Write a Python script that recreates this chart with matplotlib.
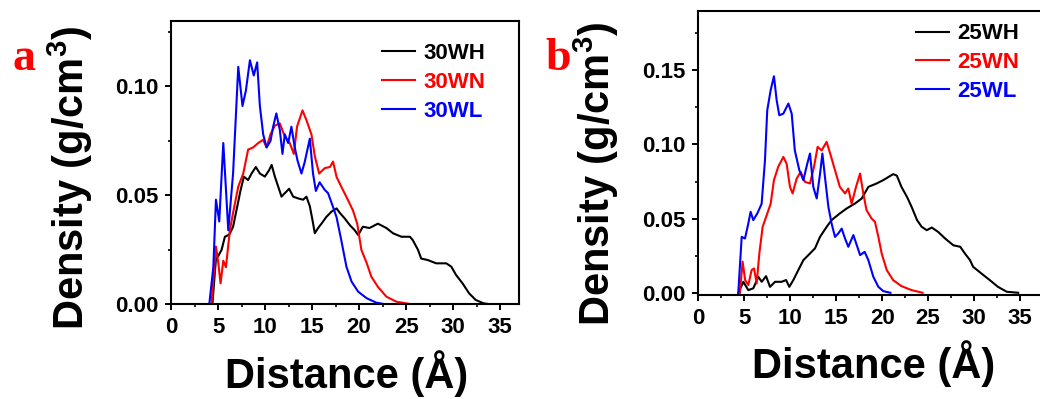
import matplotlib
matplotlib.use("Agg")
import matplotlib.pyplot as plt
from matplotlib.ticker import MultipleLocator, FormatStrFormatter

plt.rcParams["font.family"] = ["Liberation Sans", "DejaVu Sans"]
plt.rcParams["font.weight"] = "bold"
plt.rcParams["mathtext.fontset"] = "custom"
plt.rcParams["mathtext.bf"] = "Liberation Sans:bold"
plt.rcParams["mathtext.rm"] = "Liberation Sans:bold"

# ---- panel a: 30 W series (distance in Angstrom, density in g/cm^3) ----
d_30wh = [4.4, 4.78, 5.0, 5.38, 5.73, 6.2, 6.6, 7.04, 7.4, 7.75, 8.2, 8.56, 9.02, 9.45,
          9.98, 10.44, 10.7, 11.04, 11.4, 11.75, 12.1, 12.56, 12.99, 13.5, 14.05, 14.4,
          14.76, 15.04, 15.29, 15.64, 16.0, 16.5, 17.06, 17.6, 17.94, 18.47, 19.0, 19.53,
          19.9, 20.4, 21.1, 22.0, 22.9, 23.6, 24.5, 25.4, 25.7, 26.26, 26.6, 27.3, 28.2,
          29.26, 29.8, 30.3, 31.0, 31.7, 32.4, 33.2, 33.9]
rho_30wh = [0.0, 0.021, 0.022, 0.025, 0.031, 0.032, 0.0356, 0.0448, 0.0524, 0.0586, 0.057,
            0.060, 0.063, 0.060, 0.0586, 0.0616, 0.064, 0.0586, 0.054, 0.0494, 0.051, 0.053,
            0.0494, 0.0486, 0.048, 0.0494, 0.045, 0.0387, 0.0326, 0.035, 0.037, 0.040,
            0.0425, 0.044, 0.042, 0.0394, 0.0364, 0.034, 0.0318, 0.0356, 0.035, 0.037,
            0.035, 0.0326, 0.031, 0.031, 0.0295, 0.025, 0.021, 0.0203, 0.0188, 0.0188,
            0.0173, 0.0135, 0.0096, 0.005, 0.002, 0.0005, 0.0]

d_30wn = [4.3, 4.78, 5.0, 5.27, 5.56, 5.84, 6.26, 6.6, 7.15, 7.68, 8.2, 8.74, 9.27, 9.8,
          10.16, 10.58, 11.04, 11.57, 12.1, 12.63, 13.06, 13.4, 13.98, 14.4, 14.93, 15.29,
          15.75, 16.35, 16.9, 17.23, 17.6, 18.1, 18.8, 19.35, 19.8, 20.24, 20.8, 21.3, 22.0,
          22.9, 23.96, 25.2]
rho_30wn = [0.0, 0.0265, 0.020, 0.0096, 0.020, 0.017, 0.034, 0.042, 0.054, 0.060, 0.071,
            0.072, 0.074, 0.0755, 0.072, 0.078, 0.082, 0.083, 0.077, 0.074, 0.069, 0.0815,
            0.089, 0.0845, 0.078, 0.068, 0.060, 0.0625, 0.063, 0.0655, 0.0585, 0.054, 0.048,
            0.043, 0.037, 0.025, 0.019, 0.0127, 0.008, 0.0035, 0.0012, 0.0003]

d_30wl = [4.07, 4.5, 4.78, 5.13, 5.56, 6.09, 6.6, 7.15, 7.6, 7.96, 8.39, 8.8, 9.16, 9.45,
          9.8, 10.16, 10.58, 10.86, 11.2, 11.57, 11.85, 12.1, 12.46, 12.8, 13.16, 13.45,
          13.87, 14.2, 14.76, 15.1, 15.4, 15.8, 16.35, 16.7, 17.2, 17.6, 18.1, 18.65, 19.2,
          19.9, 20.8, 21.8, 22.8]
rho_30wl = [0.0, 0.017, 0.048, 0.038, 0.074, 0.034, 0.060, 0.109, 0.091, 0.098, 0.112,
            0.105, 0.111, 0.091, 0.078, 0.072, 0.075, 0.0815, 0.0876, 0.080, 0.069, 0.078,
            0.074, 0.0815, 0.072, 0.066, 0.060, 0.065, 0.076, 0.060, 0.052, 0.056, 0.0525,
            0.051, 0.045, 0.040, 0.0295, 0.0173, 0.0104, 0.0058, 0.0028, 0.0008, 0.0]

# ---- panel b: 25 W series ----
d_25wh = [4.35, 4.9, 5.44, 5.98, 6.53, 6.9, 7.37, 7.8, 8.35, 9.07, 9.55, 9.9, 10.34, 10.88,
          11.43, 12.15, 12.7, 13.24, 13.97, 14.5, 15.4, 16.15, 17.05, 17.78, 18.5, 19.4,
          20.13, 20.67, 21.2, 21.6, 22.1, 22.7, 23.2, 23.8, 24.3, 24.85, 25.4, 26.1, 26.85,
          27.75, 28.5, 29.0, 29.56, 29.9, 30.8, 31.7, 32.6, 33.55, 34.8]
rho_25wh = [0.0, 0.0074, 0.0018, 0.003, 0.0108, 0.0074, 0.0112, 0.004, 0.0074, 0.0074,
            0.0086, 0.004, 0.0086, 0.0153, 0.022, 0.0265, 0.030, 0.0377, 0.0445, 0.049,
            0.0535, 0.0569, 0.0602, 0.0636, 0.0714, 0.0737, 0.076, 0.078, 0.080, 0.079,
            0.0714, 0.0647, 0.058, 0.049, 0.0445, 0.0422, 0.0440, 0.041, 0.0366, 0.032,
            0.031, 0.0265, 0.022, 0.0175, 0.013, 0.0086, 0.004, 0.0007, 0.0]

d_25wn = [4.53, 4.82, 5.1, 5.44, 5.8, 6.06, 6.35, 6.64, 7.0, 7.44, 7.87, 8.23, 8.7, 9.25,
          9.61, 9.97, 10.26, 10.7, 11.14, 11.6, 12.15, 12.59, 12.98, 13.42, 13.96, 14.4,
          14.87, 15.4, 15.96, 16.32, 16.68, 17.16, 17.6, 17.95, 18.3, 18.86, 19.22, 19.59,
          19.95, 20.5, 21.2, 22.1, 23.2, 24.4]
rho_25wn = [0.0, 0.021, 0.0085, 0.0052, 0.0153, 0.0164, 0.0063, 0.0265, 0.0445, 0.0523,
            0.060, 0.076, 0.085, 0.0916, 0.087, 0.0714, 0.067, 0.077, 0.0815, 0.0748,
            0.0737, 0.085, 0.0984, 0.096, 0.1018, 0.0928, 0.0827, 0.0714, 0.067, 0.0703,
            0.060, 0.0714, 0.0804, 0.067, 0.0557, 0.050, 0.0478, 0.0377, 0.0265, 0.0153,
            0.0085, 0.0045, 0.0018, 0.0]

d_25wl = [4.35, 4.72, 5.08, 5.44, 5.69, 5.98, 6.42, 6.89, 7.25, 7.5, 7.87, 8.23, 8.52, 8.81,
          9.25, 9.8, 10.16, 10.5, 10.99, 11.43, 11.86, 12.15, 12.51, 12.88, 13.24, 13.5,
          13.78, 14.15, 14.5, 14.87, 15.23, 15.6, 15.96, 16.32, 16.87, 17.3, 17.6, 18.1,
          18.5, 19.04, 19.59, 20.13, 20.9]
rho_25wl = [0.0, 0.0377, 0.0366, 0.0467, 0.0546, 0.049, 0.0535, 0.060, 0.089, 0.123,
            0.1366, 0.146, 0.130, 0.1197, 0.1208, 0.1276, 0.1208, 0.096, 0.0827, 0.0759,
            0.0872, 0.0939, 0.0714, 0.0636, 0.080, 0.0939, 0.078, 0.058, 0.0467, 0.0377,
            0.040, 0.0433, 0.0366, 0.031, 0.0389, 0.031, 0.0254, 0.0276, 0.022, 0.0108,
            0.004, 0.0011, 0.0]

labels_a = ["30WH", "30WN", "30WL"]
labels_b = ["25WH", "25WN", "25WL"]
colors = ["black", "red", "blue"]

fig = plt.figure(figsize=(10.4, 3.99), dpi=100)
W, H = 1040.0, 399.0


def px_axes(left, top, right, bottom):
    return fig.add_axes([left / W, 1 - bottom / H, (right - left) / W, (bottom - top) / H])


ax_a = px_axes(171, 21, 519, 304.3)
ax_b = px_axes(698.3, 11, 1043, 295)

series_a = [(d_30wh, rho_30wh), (d_30wn, rho_30wn), (d_30wl, rho_30wl)]
series_b = [(d_25wh, rho_25wh), (d_25wn, rho_25wn), (d_25wl, rho_25wl)]

for ax, series, labels in [(ax_a, series_a, labels_a), (ax_b, series_b, labels_b)]:
    for (x, y), lab, c in zip(series, labels, colors):
        ax.plot(x, y, color=c, lw=1.5, label=lab)
    ax.xaxis.set_major_locator(MultipleLocator(5))
    ax.xaxis.set_minor_locator(MultipleLocator(2.5))
    ax.yaxis.set_major_locator(MultipleLocator(0.05))
    ax.yaxis.set_minor_locator(MultipleLocator(0.025))
    ax.yaxis.set_major_formatter(FormatStrFormatter("%.2f"))
    ax.tick_params(which="major", direction="out", length=4, width=1.4,
                   labelsize=16, pad=5)
    ax.tick_params(which="minor", direction="out", length=2.5, width=1.2)
    for s in ax.spines.values():
        s.set_linewidth(1.5)
    for t in ax.get_xticklabels() + ax.get_yticklabels():
        t.set_fontweight("bold")

ax_a.set_xlim(0, 37)
ax_a.set_ylim(0, 0.13)
ax_b.set_xlim(0, 37.5)
ax_b.set_ylim(-0.0015, 0.19)

leg_kw = dict(frameon=False, loc="upper left", borderaxespad=0, borderpad=0,
              handlelength=1.5, handletextpad=0.35, labelspacing=0.35,
              prop={"size": 16, "weight": "bold"}, labelcolor="linecolor")
ax_a.legend(bbox_to_anchor=(0.606, 0.922), **leg_kw)
ax_b.legend(bbox_to_anchor=(0.631, 0.956), **leg_kw)

ylab = r"Density (g/cm$^{\mathbf{3}}$)"
xlab = "Distance (\u00c5)"
fig.text(70 / W, 1 - 178 / H, ylab, rotation=90, ha="center", va="center",
         fontsize=30, fontweight="bold")
fig.text(596 / W, 1 - 174 / H, ylab, rotation=90, ha="center", va="center",
         fontsize=30, fontweight="bold")
fig.text(346.5 / W, 1 - 388 / H, xlab, ha="center", va="baseline",
         fontsize=30, fontweight="bold")
fig.text(873.5 / W, 1 - 378 / H, xlab, ha="center", va="baseline",
         fontsize=30, fontweight="bold")

fig.text(13 / W, 1 - 70 / H, "a", color="red", ha="left", va="baseline",
         fontsize=33, fontweight="bold", family="Liberation Serif")
fig.text(545 / W, 1 - 70 / H, "b", color="red", ha="left", va="baseline",
         fontsize=33, fontweight="bold", family="Liberation Serif")

fig.savefig("out.png", dpi=100)
